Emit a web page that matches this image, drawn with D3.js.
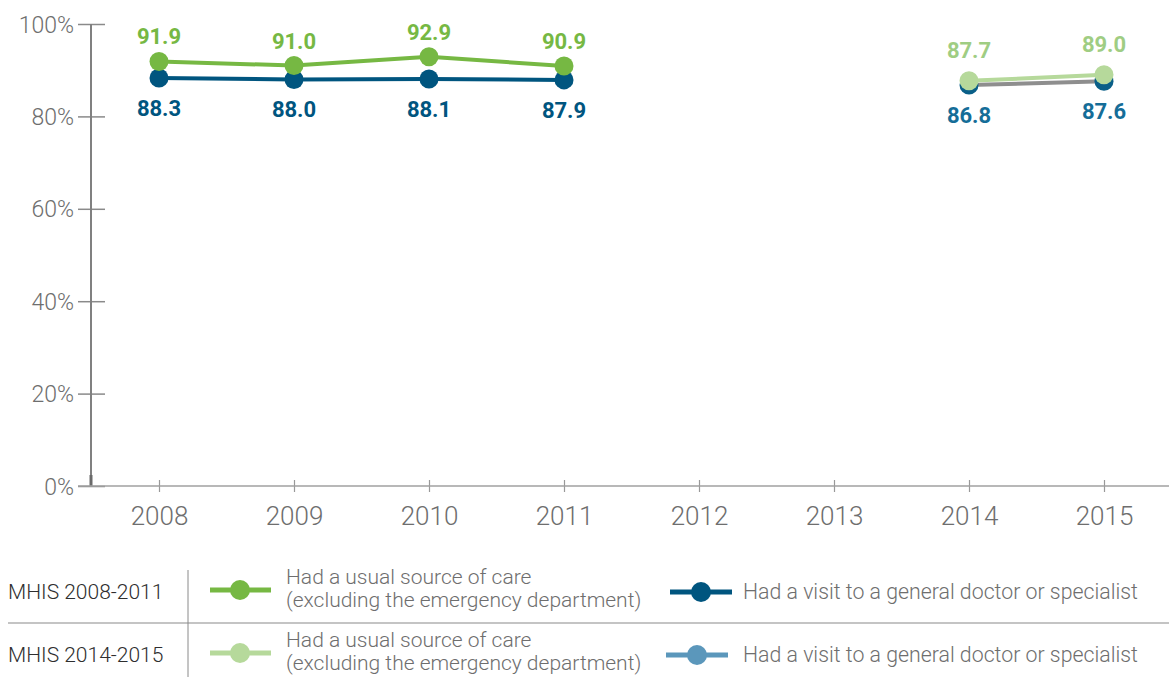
<!DOCTYPE html>
<html>
<head>
<meta charset="utf-8">
<script src="https://cdn.jsdelivr.net/npm/d3@7"></script>
<style>
  html, body { margin: 0; padding: 0; background: #fff; }
  svg { display: block; }
  .tick text { font-family: Roboto, "Liberation Sans", sans-serif; font-weight: 300; fill: #6e6e6e; }
  .val { font-family: "Liberation Sans Narrow", "Roboto", sans-serif; font-weight: 700; }
  .leg { font-family: Roboto, "Liberation Sans", sans-serif; font-weight: 300; fill: #6e6e6e; }
</style>
</head>
<body>
<svg id="chart" width="1169" height="677"></svg>
<script>
// Survey years shown on the axis
const years = [2008, 2009, 2010, 2011, 2012, 2013, 2014, 2015];
const yTicks = [0, 20, 40, 60, 80, 100];

// MHIS 2008-2011
const years0811 = [2008, 2009, 2010, 2011];
const usualCare0811 = [91.9, 91.0, 92.9, 90.9];
const doctorVisit0811 = [88.3, 88.0, 88.1, 87.9];

// MHIS 2014-2015
const years1415 = [2014, 2015];
const usualCare1415 = [87.7, 89.0];
const doctorVisit1415 = [86.8, 87.6];

// Legend rows
const legendRows = ["MHIS 2008-2011", "MHIS 2014-2015"];
const legendCare = ["Had a usual source of care", "(excluding the emergency department)"];
const legendVisit = "Had a visit to a general doctor or specialist";

const svg = d3.select("#chart");

const x = d3.scaleLinear().domain([2008, 2015]).range([159, 1104]);
const y = d3.scaleLinear().domain([0, 100]).range([486, 24]);

// y axis
const yAxis = svg.append("g")
  .attr("transform", "translate(91,0)")
  .call(d3.axisLeft(y).tickValues(yTicks).tickFormat(d => d + "%").tickSize(13).tickPadding(4));
yAxis.select(".domain").remove();
yAxis.selectAll(".tick line").attr("x1", -13).attr("x2", 14).attr("stroke", "#8a8a8a").attr("stroke-width", 1.5);
yAxis.selectAll(".tick text").attr("font-size", 23).attr("dy", "0.35em");
svg.append("line")
  .attr("x1", 91).attr("x2", 91).attr("y1", y(100)).attr("y2", y(0))
  .attr("stroke", "#808080").attr("stroke-width", 2);
svg.append("line")
  .attr("x1", 91).attr("x2", 91).attr("y1", y(0) - 11).attr("y2", y(0))
  .attr("stroke", "#6a6a6a").attr("stroke-width", 3);

// x axis
const xAxis = svg.append("g")
  .attr("transform", "translate(0,486)")
  .call(d3.axisBottom(x).tickValues(years).tickFormat(d3.format("d")).tickSize(6).tickPadding(15));
xAxis.select(".domain").remove();
xAxis.selectAll(".tick line").attr("y1", -6).attr("y2", 6).attr("stroke", "#999").attr("stroke-width", 1.2);
xAxis.selectAll(".tick text").attr("font-size", 26);
svg.append("line")
  .attr("x1", 78).attr("x2", 1169).attr("y1", 486).attr("y2", 486)
  .attr("stroke", "#a0a0a0").attr("stroke-width", 1.5);

const line = d3.line().x(d => x(d[0])).y(d => y(d[1]));

function drawSeries(yrs, vals, opt) {
  const pts = yrs.map((yr, i) => [yr, vals[i]]);
  const g = svg.append("g");
  g.append("path").datum(pts).attr("d", line)
    .attr("fill", "none").attr("stroke", opt.line).attr("stroke-width", 4);
  g.selectAll("circle").data(pts).join("circle")
    .attr("cx", d => x(d[0])).attr("cy", d => y(d[1])).attr("r", 9.5)
    .attr("fill", opt.dot);
  return { g, pts };
}

function drawLabels(pts, color, dy) {
  svg.append("g").selectAll("text").data(pts).join("text")
    .attr("class", "val")
    .attr("x", d => x(d[0])).attr("y", d => y(d[1]) + dy)
    .attr("text-anchor", "middle").attr("font-size", 22)
    .attr("fill", color)
    .text(d => d3.format(".1f")(d[1]));
}

const sVisit0811 = drawSeries(years0811, doctorVisit0811, { line: "#00557f", dot: "#00557f" });
const sCare0811 = drawSeries(years0811, usualCare0811, { line: "#76b843", dot: "#76b843" });
const sVisit1415 = drawSeries(years1415, doctorVisit1415, { line: "#8e8e8e", dot: "#0a5f88" });
const sCare1415 = drawSeries(years1415, usualCare1415, { line: "#b6d99b", dot: "#b6d99b" });

drawLabels(sCare0811.pts, "#76b843", -17);
drawLabels(sVisit0811.pts, "#00557f", 38);
drawLabels(sCare1415.pts, "#9fcd83", -23);
drawLabels(sVisit1415.pts, "#156d98", 38);

// Legend table
const leg = svg.append("g");
leg.append("line").attr("x1", 8).attr("x2", 1169).attr("y1", 623).attr("y2", 623)
  .attr("stroke", "#8a8a8a").attr("stroke-width", 1.2);
leg.append("line").attr("x1", 188).attr("x2", 188).attr("y1", 570).attr("y2", 677)
  .attr("stroke", "#8a8a8a").attr("stroke-width", 1);

const rowY = [592, 655];
const rowStyles = [
  { care: "#76b843", visit: "#00557f" },
  { care: "#b6d99b", visit: "#5b97bb" }
];

legendRows.forEach((name, i) => {
  const cy = rowY[i];
  leg.append("text").attr("class", "leg").attr("x", 8).attr("y", cy + 7)
    .attr("font-size", 21).style("fill", "#2e2e2e").text(name);

  // usual source of care symbol
  leg.append("line").attr("x1", 210).attr("x2", 271).attr("y1", cy - 2).attr("y2", cy - 2)
    .attr("stroke", rowStyles[i].care).attr("stroke-width", 5);
  leg.append("circle").attr("cx", 240).attr("cy", cy - 2).attr("r", 10).attr("fill", rowStyles[i].care);
  leg.append("text").attr("class", "leg").attr("x", 286).attr("y", cy - 8)
    .attr("font-size", 21).text(legendCare[0]);
  leg.append("text").attr("class", "leg").attr("x", 286).attr("y", cy + 15)
    .attr("font-size", 21).text(legendCare[1]);

  // doctor visit symbol
  const lx = i === 0 ? 670 : 666;
  leg.append("line").attr("x1", lx).attr("x2", lx + 62).attr("y1", cy).attr("y2", cy)
    .attr("stroke", rowStyles[i].visit).attr("stroke-width", 5);
  leg.append("circle").attr("cx", lx + 31).attr("cy", cy).attr("r", 10).attr("fill", rowStyles[i].visit);
  leg.append("text").attr("class", "leg").attr("x", 743).attr("y", cy + 7)
    .attr("font-size", 21.3).text(legendVisit);
});
</script>
</body>
</html>
